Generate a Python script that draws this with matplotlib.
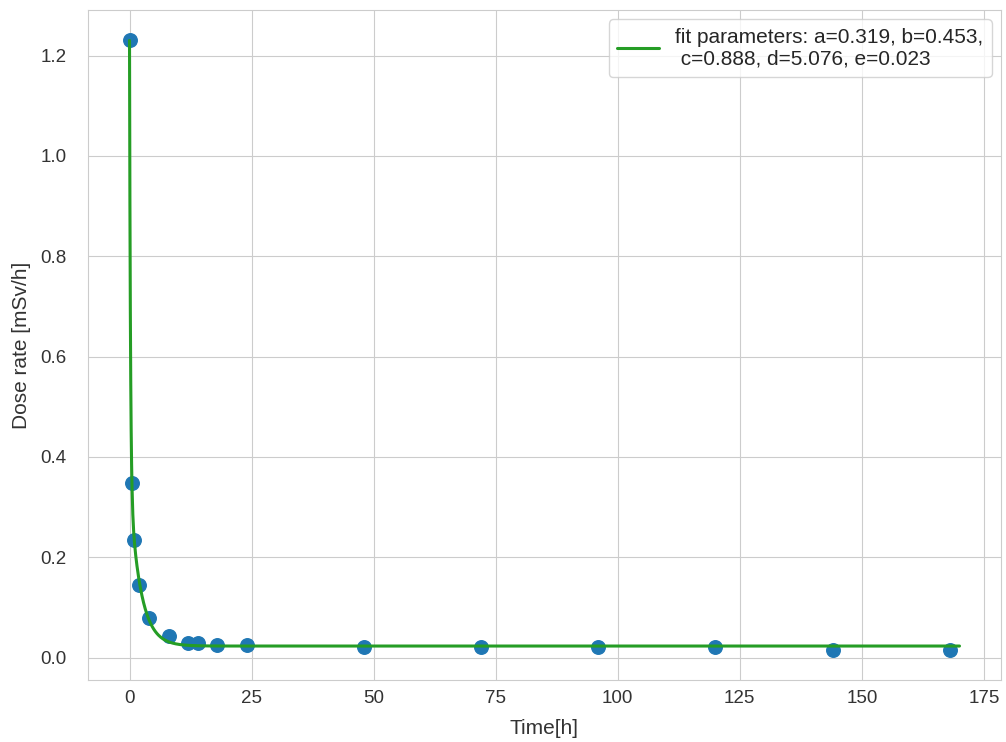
import numpy as np
import matplotlib
matplotlib.use("Agg")
import matplotlib.pyplot as plt
import seaborn as sns

# measured dose rate
time_h = [0, 0.5, 1, 2, 4, 8, 12, 14, 18, 24, 48, 72, 96, 120, 144, 168]
dose = [1.23, 0.347, 0.235, 0.145, 0.078, 0.043, 0.030, 0.030, 0.026, 0.026,
        0.021, 0.021, 0.021, 0.021, 0.016, 0.016]

# fit parameters shown in the legend: a*exp(-b*t) + c*exp(-d*t) + e
popt = [0.319, 0.453, 0.888, 5.076, 0.023]
t_max = 170


def func(t, a, b, c, d, e):
    return a * np.exp(-b * t) + c * np.exp(-d * t) + e


sns.set_style("whitegrid")
plt.rcParams['font.family'] = ['Liberation Sans', 'DejaVu Sans']

fig = plt.figure(figsize=(10.06, 7.42), dpi=100)
ax = fig.add_axes([88 / 1006, 62 / 742, 913 / 1006, 670 / 742])

ax.scatter(time_h, dose, s=95, color='tab:blue', zorder=2)

t_fit = np.linspace(0, t_max, 2000)
ax.plot(t_fit, func(t_fit, *popt), color='#259d25', lw=2.2,
        label='fit parameters: a=%5.3f, b=%5.3f,\n c=%5.3f, d=%5.3f, e=%5.3f' % tuple(popt),
        zorder=3)

ax.set_xlabel('Time[h]', fontsize=15, color='#333333', labelpad=9)
ax.set_ylabel('Dose rate [mSv/h]', fontsize=15, color='#333333', labelpad=7)
ax.tick_params(labelsize=13.5, colors='#333333')
ax.tick_params(axis='y', pad=12)
for sp in ax.spines.values():
    sp.set_color('#cccccc')
ax.legend(loc='upper right', fontsize=15, borderaxespad=0.45)

fig.savefig('out.png', dpi=100)
